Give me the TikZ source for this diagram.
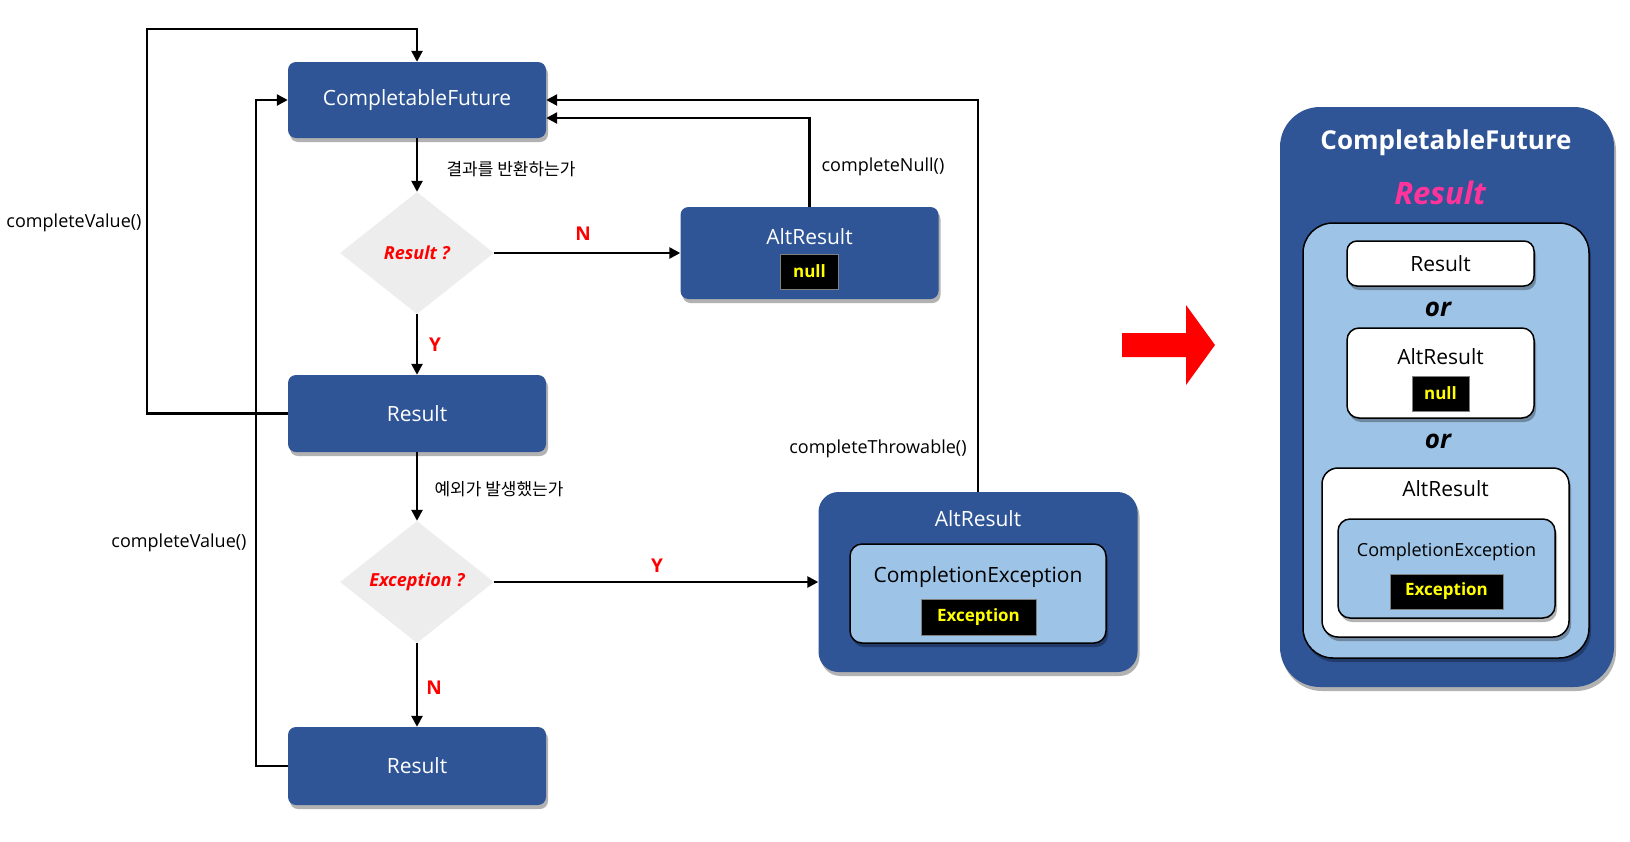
\documentclass[tikz,border=0pt]{standalone}
\usepackage{fontspec}
\setmainfont{Open Sans}
\newfontfamily\kr{Noto Sans CJK KR}
\usetikzlibrary{shapes.geometric,arrows.meta,shadows,calc}
\definecolor{boxblue}{HTML}{2F5597}
\definecolor{lblue}{HTML}{9DC3E6}
\definecolor{dgray}{HTML}{EDEDED}
\definecolor{respink}{HTML}{FF3399}
\definecolor{yel}{HTML}{FFFF00}
\newcommand{\fsz}[1]{\fontsize{#1}{#1}\selectfont}
\begin{document}
\begin{tikzpicture}[x=1pt,y=-1pt,
  shd/.style={drop shadow={shadow xshift=2pt,shadow yshift=-4pt,opacity=0.3,fill=black}},
  bluebox/.style={rectangle, rounded corners=8pt, fill=boxblue, inner sep=0pt, shd},
  dia/.style={diamond, fill=dgray, inner sep=0pt, minimum width=154pt, minimum height=122pt, text=red, font=\fsz{18}\bfseries\itshape},
  blk/.style={rectangle, fill=black, draw=gray, line width=0.8pt, inner sep=0pt, text=yel, font=\fsz{17}\bfseries},
  wtxt/.style={text=white, font=\fsz{21}, inner sep=0pt},
  btxt/.style={text=black, font=\fsz{21}, inner sep=0pt},
  lbl/.style={font=\fsz{18}, inner sep=0pt},
  krl/.style={font=\kr\fsz{17}, inner sep=0pt},
  yn/.style={text=red, font=\fsz{19}\bfseries, inner sep=0pt},
  conn/.style={line width=2.5pt, -{Triangle[length=11pt,width=11pt]}},
  wbox/.style={rectangle, fill=white, draw=black, line width=1.5pt, rounded corners=12pt, inner sep=0pt, shd},
  orl/.style={font=\fsz{26}\bfseries\itshape, inner sep=0pt}
]
\useasboundingbox (0,0) rectangle (1630,841);

% ---------- left flowchart ----------
\node[bluebox, minimum width=258pt, minimum height=76pt] (cf) at (417,100) {};
\node[wtxt] (cft) at (417,100) {CompletableFuture};

\node[dia] (d1) at (417,253) {Result ?};

\node[bluebox, minimum width=258pt, minimum height=77pt] (r1) at (417,413.5) {};
\node[wtxt] (r1t) at (417,413.5) {Result};

\node[dia] (d2) at (417,582) {Exception ?};

\node[bluebox, minimum width=258pt, minimum height=78pt] (r2) at (417,766) {};
\node[wtxt] (r2t) at (417,766) {Result};

\node[bluebox, minimum width=258pt, minimum height=92pt] (altn) at (809.5,253) {};
\node[wtxt] (altnt) at (809.5,237) {AltResult};
\node[blk, minimum width=58pt, minimum height=35pt] (nulla) at (809.5,271.5) {null};

\node[bluebox, rounded corners=20pt, minimum width=319pt, minimum height=180pt] (altb) at (978,582) {};
\node[wtxt] (altbt) at (978,519) {AltResult};
\node[rectangle, rounded corners=12pt, fill=lblue, draw=black, line width=1.5pt, minimum width=256pt, minimum height=99pt, shd] (ce) at (978,593.5) {};
\node[btxt] (cet) at (978,577) {CompletionException};
\node[blk, minimum width=115pt, minimum height=36pt] (exa) at (978.5,617) {Exception};

% connectors
\draw[conn] (cf.south) -- (d1.north);
\draw[conn] (d1.south) -- (r1.north);
\draw[conn] (d1.east) -- (altn.west);
\draw[conn] (altn.north) |- ([yshift=-18pt]cf.east);
\coordinate (lp1) at (147,29);
\draw[conn] (r1.west) -| (lp1) -| (cf.north);
\draw[conn] (r1.south) -- (d2.north);
\draw[conn] (d2.east) -- (altb.west);
\draw[conn] (d2.south) -- (r2.north);
\coordinate (lp2) at (256,100);
\draw[conn] (r2.west) -| (lp2) -- (cf.west);
\draw[conn] (altb.north) |- (cf.east);

% labels
\node[krl] (k1) at (511,169) {결과를 반환하는가};
\node[krl] (k2) at (499,489) {예외가 발생했는가};
\node[yn] (n1) at (583,234) {N};
\node[yn] (y1) at (435,345) {Y};
\node[yn] (y2) at (657,566) {Y};
\node[yn] (n2) at (434,688) {N};
\node[lbl] (cv1) at (74,223) {completeValue()};
\node[lbl] (cv2) at (179,543) {completeValue()};
\node[lbl] (cn) at (883,167) {completeNull()};
\node[lbl] (ct) at (878,449) {completeThrowable()};

% ---------- red arrow ----------
\fill[red] (1122,333) -- (1186,333) -- (1186,305) -- (1215,345) -- (1186,385) -- (1186,357) -- (1122,357) -- cycle;

% ---------- right panel ----------
\node[rectangle, rounded corners=40pt, fill=boxblue, minimum width=334pt, minimum height=580pt, inner sep=0pt, shd] (outer) at (1447,397) {};
\node[text=white, font=\fsz{26}\bfseries, inner sep=0pt] (rcf) at (1446,143) {CompletableFuture};
\node[text=respink, font=\fsz{31}\bfseries\itshape, inner sep=0pt] (rres) at (1440,193) {Result};
\node[rectangle, rounded corners=30pt, fill=lblue, draw=black, line width=1.5pt, minimum width=286pt, minimum height=435pt, inner sep=0pt, shd] (lb) at (1446,440.5) {};
\node[wbox, rounded corners=10pt, minimum width=187pt, minimum height=45pt] (rb1) at (1440.5,263.5) {};
\node[btxt] (rb1t) at (1440.5,263.5) {Result};
\node[orl] (or1) at (1438,309) {or};
\node[wbox, minimum width=187pt, minimum height=90pt] (rb2) at (1440.5,373) {};
\node[btxt] (rb2t) at (1440.5,357) {AltResult};
\node[blk, minimum width=57pt, minimum height=35pt] (nullb) at (1440.5,393.5) {null};
\node[orl] (or2) at (1438,441) {or};
\node[wbox, rounded corners=16pt, minimum width=247pt, minimum height=169pt] (rb3) at (1445.5,552.5) {};
\node[btxt] (rb3t) at (1445.5,489) {AltResult};
\node[rectangle, rounded corners=12pt, fill=lblue, draw=black, line width=1.5pt, minimum width=217pt, minimum height=99pt, inner sep=0pt, shd] (rce) at (1446.5,568.5) {};
\node[text=black, font=\fsz{18}, inner sep=0pt] (rcet) at (1446.5,552) {CompletionException};
\node[blk, minimum width=113pt, minimum height=35pt] (exb) at (1446.5,591.5) {Exception};
\end{tikzpicture}
\end{document}
